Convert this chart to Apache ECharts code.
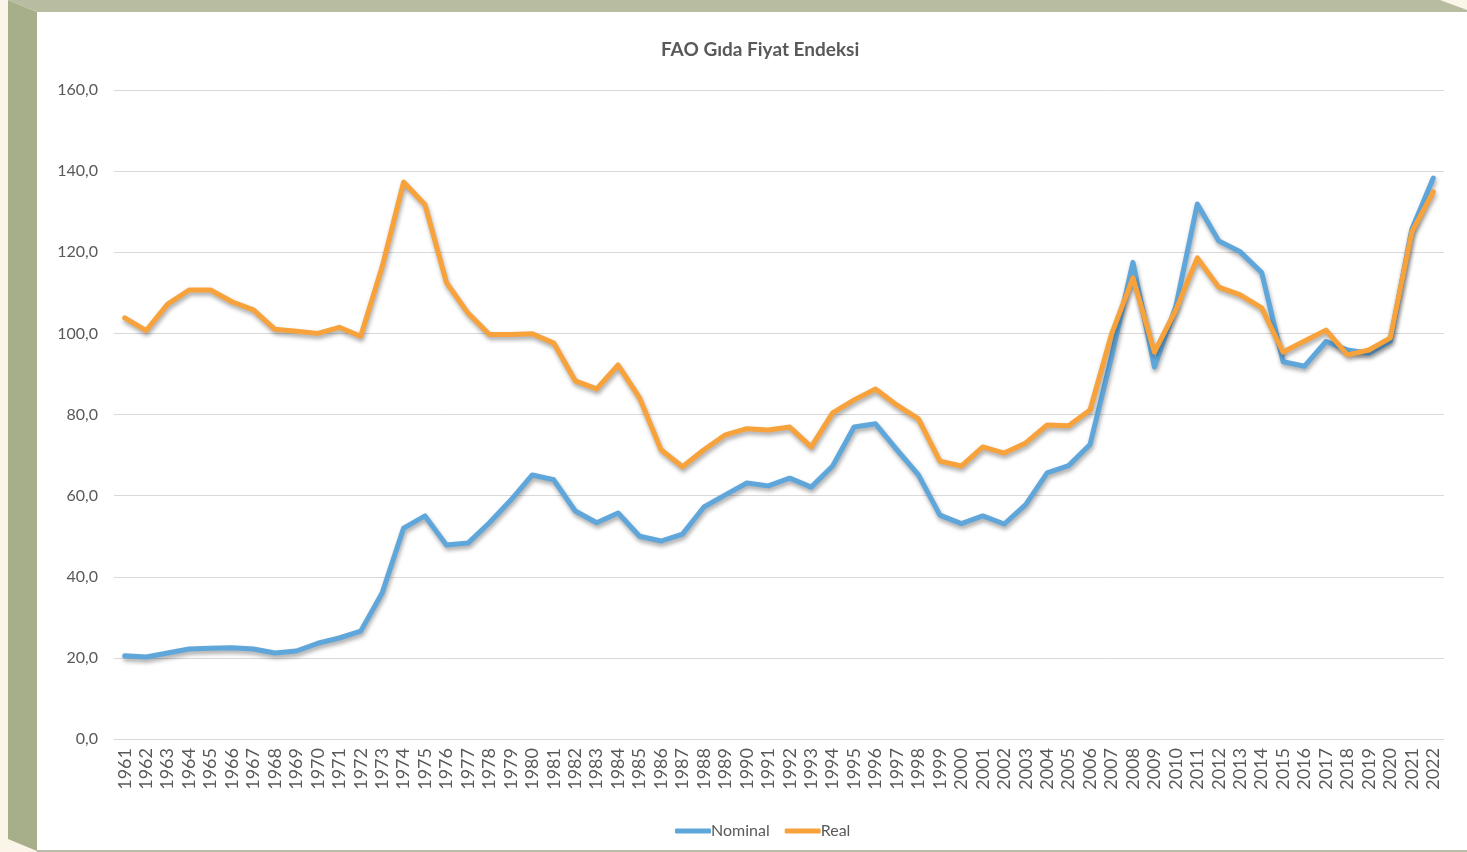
<!DOCTYPE html>
<html>
<head>
<meta charset="utf-8">
<title>FAO Gıda Fiyat Endeksi</title>
<script src="https://cdn.jsdelivr.net/npm/echarts@6/dist/echarts.min.js"></script>
<style>
  html, body { margin: 0; padding: 0; background: #fbf4e8; }
  #chart { width: 1467px; height: 852px; }
</style>
</head>
<body>
<div id="chart"></div>
<script>
  /* yillar */
  var years = [];
  for (var y = 1961; y <= 2022; y++) years.push(String(y));

  /* nominal endeks */
  var nominal = [
    20.5, 20.2, 21.2, 22.2, 22.4, 22.5, 22.2, 21.2, 21.7, 23.6,
    24.9, 26.6, 36.0, 52.0, 55.0, 47.8, 48.3, 53.3, 58.9, 65.1,
    63.9, 56.2, 53.3, 55.7, 50.0, 48.8, 50.5, 57.2, 60.2, 63.1,
    62.4, 64.3, 62.1, 67.3, 76.9, 77.7, 71.3, 65.1, 55.2, 53.1,
    55.0, 53.0, 57.8, 65.6, 67.4, 72.6, 94.2, 117.5, 91.7, 106.7,
    131.9, 122.8, 120.1, 115.0, 93.0, 91.9, 98.0, 95.9, 95.1, 98.1,
    125.7, 138.3
  ];

  /* reel endeks */
  var real = [
    103.8, 100.7, 107.2, 110.7, 110.7, 107.8, 105.8, 101.0, 100.5, 100.0,
    101.5, 99.3, 116.4, 137.3, 131.7, 112.5, 105.0, 99.7, 99.7, 99.9,
    97.6, 88.3, 86.3, 92.2, 84.1, 71.3, 67.1, 71.3, 75.0, 76.5,
    76.2, 76.9, 72.0, 80.4, 83.6, 86.3, 82.3, 78.9, 68.5, 67.3,
    72.0, 70.5, 73.0, 77.4, 77.2, 81.1, 99.8, 113.7, 95.4, 105.8,
    118.6, 111.4, 109.5, 106.3, 95.4, 98.1, 100.8, 94.7, 95.9, 98.9,
    125.0, 134.9
  ];

  var textColor = '#595959';
  var lineShadow = {
    shadowColor: 'rgba(0, 0, 0, 0.35)',
    shadowBlur: 4,
    shadowOffsetX: 1,
    shadowOffsetY: 3
  };

  var chart = echarts.init(document.getElementById('chart'));
  chart.setOption({
    backgroundColor: '#fbf4e8',
    textStyle: { fontFamily: 'Lato, "Open Sans", sans-serif' },
    graphic: [
      /* beyaz alan */
      { type: 'rect', z: -10, shape: { x: 37, y: 12, width: 1430, height: 839 },
        style: { fill: '#ffffff' } },
      /* sol panel */
      { type: 'polygon', z: -9,
        shape: { points: [[8, 0], [37, 12], [37, 851], [8, 839]] },
        style: { fill: '#a7ae8a' } },
      /* ust bant */
      { type: 'polygon', z: -9,
        shape: { points: [[8, 0], [1440, 0], [1467, 10], [1467, 12], [37, 12]] },
        style: { fill: '#b8bda1' } },
      /* alt cizgi */
      { type: 'rect', z: -9, shape: { x: 37, y: 850, width: 1430, height: 2 },
        style: { fill: '#b9bca6' } }
    ],
    title: {
      text: 'FAO Gıda Fiyat Endeksi',
      left: 656,
      top: 35,
      textStyle: { fontSize: 19, fontWeight: 'bold', color: textColor, fontFamily: 'Lato, sans-serif' }
    },
    legend: {
      top: 818,
      left: 670,
      itemWidth: 36,
      itemHeight: 5,
      itemGap: 15,
      icon: 'roundRect',
      textStyle: { fontSize: 16, color: textColor, padding: [0, 0, 0, -5] },
      data: ['Nominal', 'Real']
    },
    grid: { left: 114, right: 23, top: 90, bottom: 113 },
    xAxis: {
      type: 'category',
      data: years,
      boundaryGap: true,
      axisLine: { lineStyle: { color: '#d9d9d9', width: 1 } },
      axisTick: { show: false },
      axisLabel: { rotate: 90, interval: 0, fontSize: 18, color: textColor, margin: 9 }
    },
    yAxis: {
      type: 'value',
      min: 0,
      max: 160,
      interval: 20,
      axisLine: { show: false },
      axisTick: { show: false },
      splitLine: { lineStyle: { color: '#d9d9d9', width: 1 } },
      axisLabel: {
        fontSize: 16,
        color: textColor,
        margin: 16,
        formatter: function (v) { return v.toFixed(1).replace('.', ','); }
      }
    },
    series: [
      {
        name: 'Nominal',
        type: 'line',
        data: nominal,
        symbol: 'none',
        color: '#5fa6db',
        lineStyle: Object.assign({ width: 5, color: '#5fa6db', cap: 'round', join: 'round' }, lineShadow)
      },
      {
        name: 'Real',
        type: 'line',
        data: real,
        symbol: 'none',
        color: '#f7a23b',
        lineStyle: Object.assign({ width: 5, color: '#f7a23b', cap: 'round', join: 'round' }, lineShadow)
      }
    ]
  });
</script>
</body>
</html>
